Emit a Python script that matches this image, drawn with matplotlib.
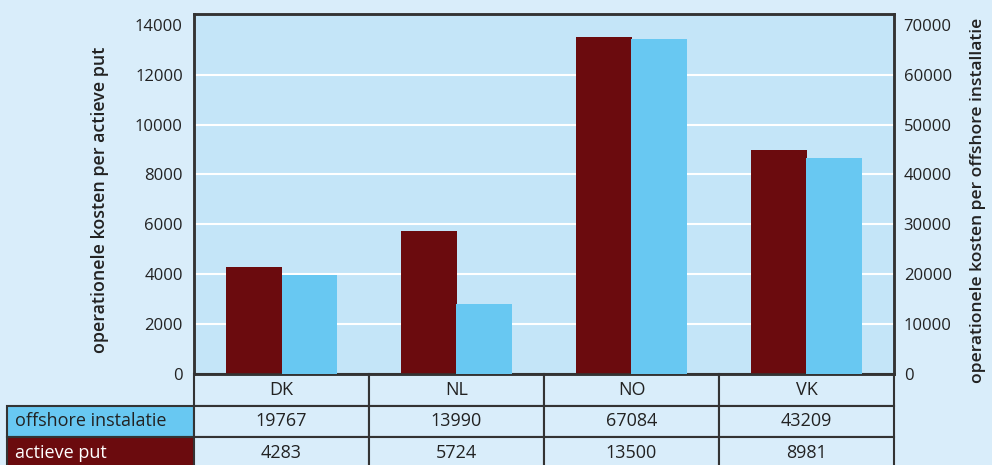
import matplotlib.pyplot as plt
from matplotlib.patches import Rectangle
import numpy as np

# operational costs per country
landen = ['DK', 'NL', 'NO', 'VK']
offshore_instalatie = [19767, 13990, 67084, 43209]
actieve_put = [4283, 5724, 13500, 8981]
reeksen = ['offshore instalatie', 'actieve put']

left_ticks = [0, 2000, 4000, 6000, 8000, 10000, 12000, 14000]
right_ticks = [0, 10000, 20000, 30000, 40000, 50000, 60000, 70000]

bg = '#d9edfa'
plot_bg = '#c4e5f8'
red = '#6b0b0e'
blue = '#68c8f2'
dark = '#222222'
line = '#333333'

plt.rcParams['font.family'] = ['Open Sans', 'DejaVu Sans']

fig = plt.figure(figsize=(9.92, 4.65), dpi=100, facecolor=bg)
ax = fig.add_axes([194 / 992, 91 / 465, 700 / 992, 360 / 465])
ax.set_facecolor(plot_bg)
ax2 = ax.twinx()

x = np.arange(len(landen))
w = 0.315
ax.bar(x - w / 2, actieve_put, width=w, color=red, zorder=3)
ax2.bar(x + w / 2, offshore_instalatie, width=w, color=blue, zorder=3)

ax.set_xlim(-0.5, len(landen) - 0.5)
ax.set_ylim(0, 14430)
ax2.set_ylim(0, 14430 * 5)
ax.set_yticks(left_ticks)
ax2.set_yticks(right_ticks)
ax.set_xticks([])

ax.yaxis.grid(True, color='white', linewidth=1.5)
ax.set_axisbelow(True)
ax.get_ygridlines()[-1].set_visible(False)

for a in (ax, ax2):
    a.tick_params(axis='y', length=0, labelsize=12, labelcolor=dark)
    for s in a.spines.values():
        s.set_color(line)
        s.set_linewidth(1.8)
ax.tick_params(axis='y', pad=8)
ax2.tick_params(axis='y', pad=7)

ax.set_ylabel('operationele kosten per actieve put', fontsize=12.9, fontweight='semibold',
              color=dark)
ax2.set_ylabel('operationele kosten per offshore installatie', fontsize=12.6,
               fontweight='semibold', color=dark)
ax.yaxis.set_label_coords(-0.122, 0.483)
ax2.yaxis.set_label_coords(1.109, 0.482)

# data table under the bars, in axes fractions
kol_w = 1 / len(landen)
rij_h = 31.5 / 360
label_w = 187 / 700


def cel(x0, y0, breedte, tekst, kleur, tekstkleur=dark, links=False):
    ax.add_patch(Rectangle((x0, y0), breedte, rij_h, transform=ax.transAxes,
                           facecolor=kleur, edgecolor=line, linewidth=1.5, clip_on=False))
    tx = x0 + 0.012 if links else x0 + breedte / 2
    ax.text(tx, y0 + rij_h / 2, tekst, transform=ax.transAxes, fontsize=13,
            color=tekstkleur, ha='left' if links else 'center', va='center')


for j, land in enumerate(landen):
    cel(j * kol_w, -rij_h, kol_w, land, bg)
for i, (naam, waarden) in enumerate(zip(reeksen, [offshore_instalatie, actieve_put])):
    y0 = -(i + 2) * rij_h
    if i == 0:
        cel(-label_w, y0, label_w, naam, blue, links=True)
    else:
        cel(-label_w, y0, label_w, naam, red, tekstkleur='white', links=True)
    for j, v in enumerate(waarden):
        cel(j * kol_w, y0, kol_w, str(v), bg)

plt.savefig('out.png', dpi=100, facecolor=bg)
